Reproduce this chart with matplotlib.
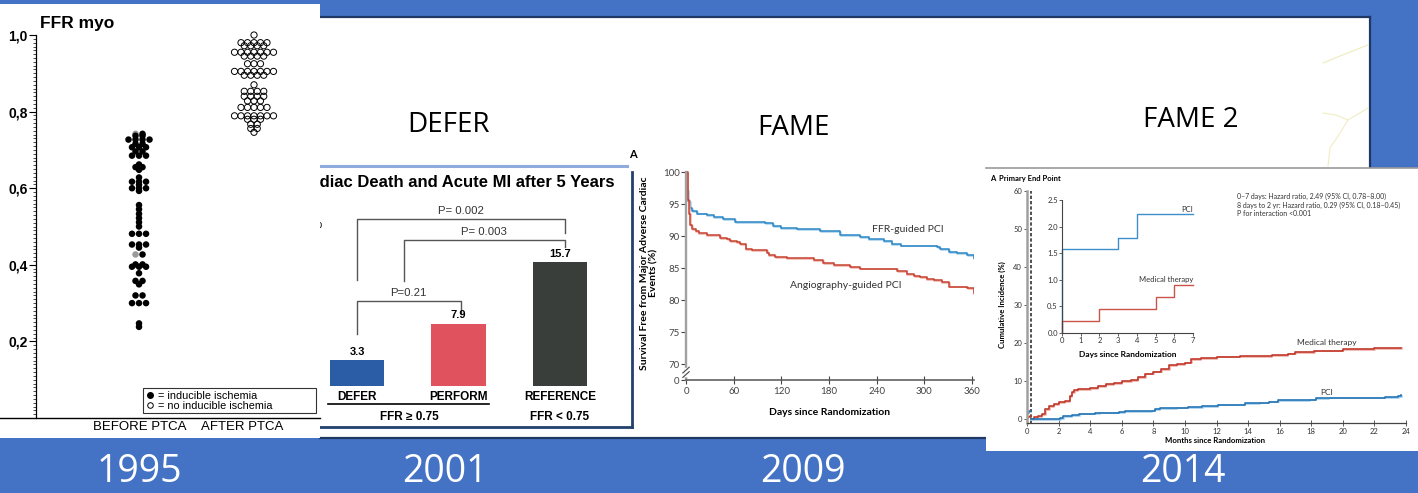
import numpy as np
import matplotlib
matplotlib.use("Agg")
import matplotlib.pyplot as plt
from matplotlib.patches import Rectangle
from matplotlib.lines import Line2D
import matplotlib.patheffects as pe

plt.rcParams["font.family"] = ["Liberation Sans", "DejaVu Sans"]

# ---- 1995: FFR before / after PTCA (dot plot, value level -> number of patients)
before_levels = [0.742, 0.737, 0.727, 0.716, 0.707, 0.696, 0.685, 0.662, 0.655, 0.648,
                 0.628, 0.617, 0.609, 0.600, 0.593, 0.556, 0.545, 0.533, 0.522, 0.511,
                 0.500, 0.481, 0.453, 0.445, 0.427, 0.401, 0.395, 0.378, 0.358, 0.349,
                 0.320, 0.300, 0.247, 0.238]
before_counts = [2, 2, 4, 2, 3, 2, 3, 1, 2, 1,
                 1, 3, 1, 3, 1, 1, 1, 1, 1, 1,
                 1, 3, 3, 1, 2, 2, 3, 1, 2, 1,
                 2, 3, 1, 1]
before_no_ischemia = [0.742, 0.427]
after_levels = [1.000, 0.980, 0.972, 0.955, 0.945, 0.925, 0.905, 0.895, 0.870, 0.853,
                0.840, 0.828, 0.811, 0.789, 0.780, 0.767, 0.756, 0.746]
after_counts = [1, 5, 4, 7, 4, 3, 7, 4, 1, 4,
                4, 3, 5, 7, 3, 2, 2, 1]
ffr_ticks = [0.2, 0.4, 0.6, 0.8, 1.0]

# ---- 2001: DEFER, cardiac death and MI after 5 years (%)
defer_groups = ["DEFER", "PERFORM", "REFERENCE"]
defer_values = [3.3, 7.9, 15.7]
defer_colors = ["#2B5CA6", "#E0525E", "#3A3E3B"]
defer_pvalues = ["P=0.21", "P= 0.003", "P= 0.002"]

# ---- 2009: FAME, survival free from MACE (%)
ffr_days = [0, 1, 3, 5, 8, 14, 26, 35, 47, 62, 100, 110, 119, 140, 169, 194, 219, 230,
            249, 259, 270, 316, 320, 331, 341, 354, 362]
ffr_surv = [100, 97.2, 95.4, 94.3, 93.9, 93.5, 93.3, 93.0, 92.6, 92.2, 92.0, 91.5, 91.3,
            91.1, 90.8, 90.1, 89.8, 89.5, 89.2, 88.7, 88.5, 88.3, 87.9, 87.5, 87.3, 87.0, 86.5]
angio_days = [0, 2, 4, 5, 8, 12, 16, 26, 43, 52, 56, 64, 68, 75, 83, 102, 104, 112, 127,
              161, 173, 186, 207, 219, 266, 278, 287, 295, 303, 312, 322, 331, 354, 362]
angio_surv = [100, 95.6, 93.5, 91.7, 91.1, 90.8, 90.4, 90.1, 89.7, 89.5, 89.2, 89.1, 88.7,
              88.0, 87.8, 87.4, 87.0, 86.7, 86.5, 86.2, 85.8, 85.4, 85.2, 84.9, 84.5, 84.0,
              83.7, 83.6, 83.3, 83.1, 82.8, 82.1, 81.9, 81.1]

# ---- 2014: FAME 2, cumulative incidence of primary end point (%)
early_pci_days = [0, 0, 3, 4, 7]
early_pci_inc = [0, 1.57, 1.78, 2.23, 2.23]
early_med_days = [0, 0, 2, 5, 6, 7]
early_med_inc = [0, 0.23, 0.46, 0.68, 0.91, 0.91]
med_months = [0.23, 0.45, 0.7, 0.95, 1.15, 1.4, 1.7, 2.0, 2.4, 2.7, 2.85, 3.0, 3.2, 4.0,
              4.5, 5.0, 5.5, 6.0, 6.6, 7.0, 7.5, 8.0, 8.5, 9.0, 9.5, 10.0, 10.4, 11.0,
              12.0, 13.5, 15.5, 16.5, 17.0, 18.2, 20.0, 22.0, 23.7]
med_inc = [0, 0.5, 0.8, 1.2, 2.6, 3.4, 3.9, 4.4, 4.7, 6.0, 7.0, 7.6, 7.9, 8.2, 8.7, 9.1,
           9.5, 9.9, 10.2, 11.0, 11.9, 12.5, 13.2, 14.1, 14.5, 14.8, 15.7, 16.1, 16.4,
           16.6, 16.8, 17.2, 17.6, 18.0, 18.4, 18.6, 18.8]
pci_months = [0.23, 2.1, 2.3, 2.85, 3.3, 4.3, 4.6, 5.8, 6.2, 7.9, 8.1, 8.4, 9.5, 10.2,
              11.1, 12.1, 13.8, 14.7, 15.3, 15.9, 17.9, 18.3, 19.1, 22.7, 23.5, 23.7]
pci_inc = [0, 0.3, 0.7, 1.1, 1.4, 1.6, 1.7, 1.8, 2.0, 2.2, 2.6, 2.8, 3.0, 3.15, 3.4, 3.8,
           4.1, 4.3, 4.6, 4.9, 5.1, 5.5, 5.6, 5.8, 6.0, 6.2]
hazard_lines = ["0\u20137 days: Hazard ratio, 2.49 (95% CI, 0.78\u20138.00)",
                "8 days to 2 yr: Hazard ratio, 0.29 (95% CI, 0.18\u20130.45)",
                "P for interaction <0.001"]

years = ["1995", "2001", "2009", "2014"]
studies = ["DEFER", "FAME", "FAME 2"]

W, H = 1418, 493
BLUE = "#4472C4"
NAVY = "#1F3864"
DAYS_PER_MONTH = 30.44


def px_rect(x0, y0, x1, y1):
    # pixel box (top-left origin) -> figure fraction rect
    return [x0 / W, 1 - y1 / H, (x1 - x0) / W, (y1 - y0) / H]


def dot_rows(levels, counts, step):
    xs, ys = [], []
    for lv, n in zip(levels, counts):
        for k in range(n):
            xs.append((k - (n - 1) / 2) * step)
            ys.append(lv)
    return np.array(xs), np.array(ys)


fig = plt.figure(figsize=(W / 100, H / 100), dpi=100, facecolor=BLUE)

# ---------------- slide background
bg = fig.add_axes([0, 0, 1, 1])
bg.set_xlim(0, W)
bg.set_ylim(H, 0)
bg.axis("off")
bg.set_zorder(0)
bg.add_patch(Rectangle((0, 17), 1370, 420, fc="white", ec="none", zorder=1))
bg.plot([0, 1370], [17, 17], color=NAVY, lw=1.6, zorder=2)
bg.plot([1370, 1370], [17, 437], color=NAVY, lw=1.6, zorder=2)
bg.plot([320, 986], [437.5, 437.5], color=NAVY, lw=1.6, zorder=2)
# faint branch lines of the slide picture
bg.plot([1323, 1345, 1368], [63, 54, 45], color="#F0EDC4", lw=0.9, zorder=2)
bg.plot([1323, 1336, 1348, 1358, 1368], [113, 115, 120, 114, 108], color="#F0EDC4",
        lw=0.8, zorder=2)
bg.plot([1348, 1340, 1330, 1328], [120, 133, 148, 166], color="#F0EDC4", lw=0.8,
        zorder=2)

# DEFER frame
bg.plot([320, 627], [166, 166], color="#8FAADC", lw=2.2, zorder=2)
bg.plot([632, 632], [172, 427], color="#24406F", lw=2.0, zorder=2)
bg.plot([320, 632], [427, 427], color="#24406F", lw=2.0, zorder=2)

# FAME 2 sheet, lying over the slide edge
bg.add_patch(Rectangle((986, 168), 432, 283, fc="white", ec="none", zorder=5))
bg.plot([986, 1418], [168, 168], color="#9A9A9A", lw=1.2, zorder=6)

for name, (x, y) in zip(studies, [(449, 132), (793, 135), (1191, 127)]):
    bg.text(x, y, name, ha="center", va="baseline", fontsize=20, family="Open Sans",
            color="black")
for yr, x in zip(years, [139, 445, 803, 1183]):
    bg.text(x, 482, yr, ha="center", va="baseline", fontsize=27, family="Open Sans",
            color="white", zorder=6)

bg.text(633, 155, "A", ha="center", va="center", fontsize=8, family="Lato",
        fontweight="bold")

# ---------------- DEFER bars
ax2 = fig.add_axes(px_rect(250, 166, 632, 427))
ax2.set_zorder(1)
ax2.set_facecolor("none")
ax2.set_xlim(-1.054, 2.709)
ax2.set_ylim(-5.21, 27.95)
ax2.axis("off")
xpos = np.arange(len(defer_values))
ax2.bar(xpos, defer_values, width=0.54, color=defer_colors)
for x, v in zip(xpos, defer_values):
    ax2.annotate(f"{v}", (x, v), xytext=(0, 2.5), textcoords="offset points",
                 ha="center", va="bottom", fontsize=8, fontweight="bold")
for x, g in zip(xpos, defer_groups):
    ax2.text(x, -1.4, g, ha="center", va="center", fontsize=8.5, fontweight="bold")
ax2.plot([-0.29, 1.3], [-2.3, -2.3], color="black", lw=1.2)
ax2.text(0.52, -3.95, "FFR \u2265 0.75", ha="center", va="center", fontsize=8.5,
         fontweight="bold")
ax2.text(2.0, -3.95, "FFR < 0.75", ha="center", va="center", fontsize=8.5,
         fontweight="bold")
ax2.text(2.54, 25.9, "Cardiac Death and Acute MI after 5 Years", ha="right",
         va="center", fontsize=12, fontweight="bold")
ax2.text(-0.40, 20.4, "%", ha="center", va="center", fontsize=9)

# significance brackets: (x left, x right, left foot, top, right foot)
brackets = [(0, 1.02, 6.6, 10.8, 9.15), (0.46, 2.05, 13.3, 18.55, 17.66),
            (0, 2.05, 13.5, 21.2, 19.4)]
for (x0, x1, y0, yt, y1), lab in zip(brackets, defer_pvalues):
    ax2.plot([x0, x0, x1, x1], [y0, yt, yt, y1], color="#555555", lw=1.0)
    ax2.annotate(lab, ((x0 + x1) / 2, yt), xytext=(0, 2), textcoords="offset points",
                 ha="center", va="bottom", fontsize=8.2, color="#333333")

# ---------------- FAME survival curves
ax3 = fig.add_axes(px_rect(686, 170.1, 973.6, 380))
ax3.set_zorder(1)
ax3.set_facecolor("none")
ax3.set_xlim(0, 362)
ax3.set_ylim(67.5, 100.3)
for s in ["top", "right"]:
    ax3.spines[s].set_visible(False)
ax3.spines["left"].set_color("#A0A0A0")
ax3.spines["left"].set_linewidth(1.7)
ax3.spines["left"].set_bounds(67.5, 100)
ax3.spines["bottom"].set_color("#555555")
ax3.spines["bottom"].set_linewidth(1.1)
ax3.set_yticks([67.5, 70, 75, 80, 85, 90, 95, 100])
ax3.set_yticklabels(["0", "70", "75", "80", "85", "90", "95", "100"])
ax3.set_xticks(np.arange(0, 361, 60))
ax3.tick_params(axis="y", direction="out", length=3.5, width=0.8, color="#444444",
                labelsize=7, labelcolor="#444444", pad=1)
ax3.tick_params(axis="x", direction="inout", length=6, width=0.8, color="#444444",
                labelsize=7, labelcolor="#444444", pad=2)
for lab in ax3.get_xticklabels() + ax3.get_yticklabels():
    lab.set_family("Lato")
ax3.step(ffr_days, ffr_surv, where="post", color="#2B86C5", lw=1.1,
         path_effects=[pe.SimpleLineShadow(offset=(0.4, -0.6), shadow_color="#9CCBEA",
                                           alpha=0.9), pe.Normal()])
ax3.step(angio_days, angio_surv, where="post", color="#C8412F", lw=1.1,
         path_effects=[pe.SimpleLineShadow(offset=(0.4, -0.6), shadow_color="#EDA9A0",
                                           alpha=0.9), pe.Normal()])
# axis break on the y axis
ax3.plot([0, 0], [68.3, 69.2], color="white", lw=2.5, clip_on=False, zorder=4)
for yb in [68.35, 69.05]:
    ax3.plot([-4, 4], [yb - 0.45, yb + 0.45], color="#444444", lw=0.8, clip_on=False,
             zorder=5)
ax3.text(279.5, 90.94, "FFR-guided PCI", ha="center", va="center", fontsize=7.5,
         family="Lato", color="#333333")
ax3.text(201.4, 82.34, "Angiography-guided PCI", ha="center", va="center",
         fontsize=7.5, family="Lato", color="#333333")
ax3.text(0.5, -0.157, "Days since Randomization", transform=ax3.transAxes,
         ha="center", va="center", fontsize=7.5, family="Lato", fontweight="bold")
ax3.text(-0.129, 0.51, "Survival Free from Major Adverse Cardiac\nEvents (%)",
         transform=ax3.transAxes, rotation=90, ha="center", va="center",
         multialignment="center", linespacing=1.05, fontsize=7.5, family="Lato",
         fontweight="bold")

# ---------------- FAME 2 landmark curves
ax4 = fig.add_axes(px_rect(1027, 187.2, 1406, 422.8))
ax4.set_zorder(2)
ax4.set_facecolor("none")
ax4.set_xlim(0, 24)
ax4.set_ylim(-1, 61)
for s in ["top", "right"]:
    ax4.spines[s].set_visible(False)
ax4.spines["left"].set_color("#A0A0A0")
ax4.spines["left"].set_linewidth(1.8)
ax4.spines["left"].set_bounds(-1, 60)
ax4.spines["bottom"].set_color("#444444")
ax4.spines["bottom"].set_linewidth(0.9)
ax4.set_yticks(np.arange(0, 61, 10))
ax4.set_xticks(np.arange(0, 25, 2))
ax4.tick_params(axis="y", direction="out", length=2.5, width=0.6, color="#444444",
                labelsize=5.5, labelcolor="#333333", pad=1)
ax4.tick_params(axis="x", direction="inout", length=4, width=0.6, color="#444444",
                labelsize=5.5, labelcolor="#333333", pad=1.5)
for lab in ax4.get_xticklabels() + ax4.get_yticklabels():
    lab.set_family("Lato")
landmark = 7 / DAYS_PER_MONTH
ax4.plot([landmark, landmark], [-1, 60], color="#333333", lw=1.2, ls=(0, (2, 1.2)))
red_fx = [pe.SimpleLineShadow(offset=(0.3, -0.5), shadow_color="#EDA9A0", alpha=0.9),
          pe.Normal()]
blue_fx = [pe.SimpleLineShadow(offset=(0.3, -0.5), shadow_color="#9CCBEA", alpha=0.9),
           pe.Normal()]
ax4.step(np.array(early_med_days) / DAYS_PER_MONTH, early_med_inc, where="post",
         color="#C0392B", lw=1.1)
ax4.step(np.array(early_pci_days) / DAYS_PER_MONTH, early_pci_inc, where="post",
         color="#2475B5", lw=1.1)
ax4.step(med_months, med_inc, where="post", color="#C0392B", lw=1.2, path_effects=red_fx)
ax4.step(pci_months, pci_inc, where="post", color="#2475B5", lw=1.2, path_effects=blue_fx)
ax4.text(19.0, 20.0, "Medical therapy", ha="center", va="center", fontsize=6,
         family="Lato", color="#333333")
ax4.text(19.0, 7.1, "PCI", ha="center", va="center", fontsize=6, family="Lato",
         color="#333333")
ax4.text(0.496, -0.077, "Months since Randomization", transform=ax4.transAxes,
         ha="center", va="center", fontsize=5.6, family="Lato", fontweight="bold")
ax4.text(-0.066, 0.5, "Cumulative Incidence (%)", transform=ax4.transAxes,
         rotation=90, ha="center", va="center", fontsize=5.6, family="Lato",
         fontweight="bold")
bg.text(990, 178, "A  Primary End Point", ha="left", va="center", fontsize=5.5,
        family="Lato", fontweight="bold", zorder=7)
for i, line in enumerate(hazard_lines):
    bg.text(1237, 196 + 9 * i, line, ha="left", va="center", fontsize=5,
            family="Lato", color="#333333", zorder=7)

# inset: first week
ax5 = fig.add_axes(px_rect(1062, 200, 1193, 333))
ax5.set_zorder(3)
ax5.set_facecolor("none")
ax5.set_xlim(0, 7)
ax5.set_ylim(0, 2.5)
for s in ["top", "right"]:
    ax5.spines[s].set_visible(False)
for s in ["left", "bottom"]:
    ax5.spines[s].set_color("#444444")
    ax5.spines[s].set_linewidth(0.8)
ax5.set_yticks(np.arange(0, 2.51, 0.5))
ax5.set_yticklabels([f"{v:.1f}" for v in np.arange(0, 2.51, 0.5)])
ax5.set_xticks(np.arange(0, 8))
ax5.tick_params(direction="out", length=2, width=0.6, color="#444444", labelsize=5.5,
                labelcolor="#333333", pad=1)
for lab in ax5.get_xticklabels() + ax5.get_yticklabels():
    lab.set_family("Lato")
ax5.step(early_pci_days, early_pci_inc, where="post", color="#3C8FCB", lw=1.0,
         clip_on=False)
ax5.step(early_med_days, early_med_inc, where="post", color="#C9544A", lw=1.0,
         clip_on=False)
ax5.text(7, 2.33, "PCI", ha="right", va="center", fontsize=5.5, family="Lato",
         color="#333333")
ax5.text(7, 1.0, "Medical therapy", ha="right", va="center", fontsize=5.5,
         family="Lato", color="#333333")
ax5.text(0.5, -0.158, "Days since Randomization", transform=ax5.transAxes,
         ha="center", va="center", fontsize=6, family="Lato", fontweight="bold")

# ---------------- 1995 FFR dot plot (sits on top of the DEFER sheet)
ax1 = fig.add_axes(px_rect(0, 4, 320, 438))
ax1.set_zorder(5)
ax1.set_facecolor("white")
ax1.set_xlim(-1.209, 1.574)
ax1.set_ylim(-0.0522, 1.081)
for s in ["top", "right"]:
    ax1.spines[s].set_visible(False)
ax1.spines["left"].set_position(("data", -0.896))
ax1.spines["left"].set_bounds(0, 1.0)
ax1.spines["left"].set_linewidth(0.9)
ax1.spines["bottom"].set_position(("data", 0))
ax1.spines["bottom"].set_linewidth(1.0)
ax1.set_xticks([])
ax1.set_yticks(ffr_ticks)
ax1.set_yticklabels([f"{t:.1f}".replace(".", ",") for t in ffr_ticks],
                    fontsize=10, fontweight="bold")
ax1.set_yticks(np.arange(0, 1.001, 0.01), minor=True)
ax1.tick_params(axis="y", which="major", length=5, width=0.8, pad=1)
ax1.tick_params(axis="y", which="minor", length=2.2, width=0.5)

bx, by = dot_rows(before_levels, before_counts, 0.061)
first_in_row = np.r_[True, by[1:] != by[:-1]]
bcol = ["#9A9A9A" if (f and y in before_no_ischemia) else "black"
        for f, y in zip(first_in_row, by)]
ax1.scatter(bx, by, s=22, c=bcol, edgecolors="none", zorder=3)
axx, ayy = dot_rows(after_levels, after_counts, 0.0565)
ax1.scatter(axx + 1, ayy, s=20, facecolors="none", edgecolors="black", linewidths=0.7,
            zorder=3)

ax1.text(0.125, 0.954, "FFR myo", transform=ax1.transAxes, ha="left", va="center",
         fontsize=12.5, fontweight="bold")
ax1.text(0.4375, 0.0253, "BEFORE PTCA", transform=ax1.transAxes, ha="center",
         va="center", fontsize=9.5)
ax1.text(0.756, 0.0253, "AFTER PTCA", transform=ax1.transAxes, ha="center",
         va="center", fontsize=9.5)
handles = [Line2D([], [], marker="o", ls="none", color="black", markersize=4),
           Line2D([], [], marker="o", ls="none", mfc="none", mec="black", markersize=4,
                  mew=0.7)]
leg = ax1.legend(handles, ["= inducible ischemia", "= no inducible ischemia"],
                 loc="lower left", bbox_to_anchor=(0.447, 0.058, 0.54, 0.046),
                 mode="expand", fontsize=7.8, frameon=True, fancybox=False,
                 edgecolor="black", handlelength=0.8, handletextpad=0.4,
                 labelspacing=0.0, borderpad=0.2, borderaxespad=0)
leg.get_frame().set_linewidth(0.8)

fig.savefig("out.png", dpi=100, facecolor=BLUE)
